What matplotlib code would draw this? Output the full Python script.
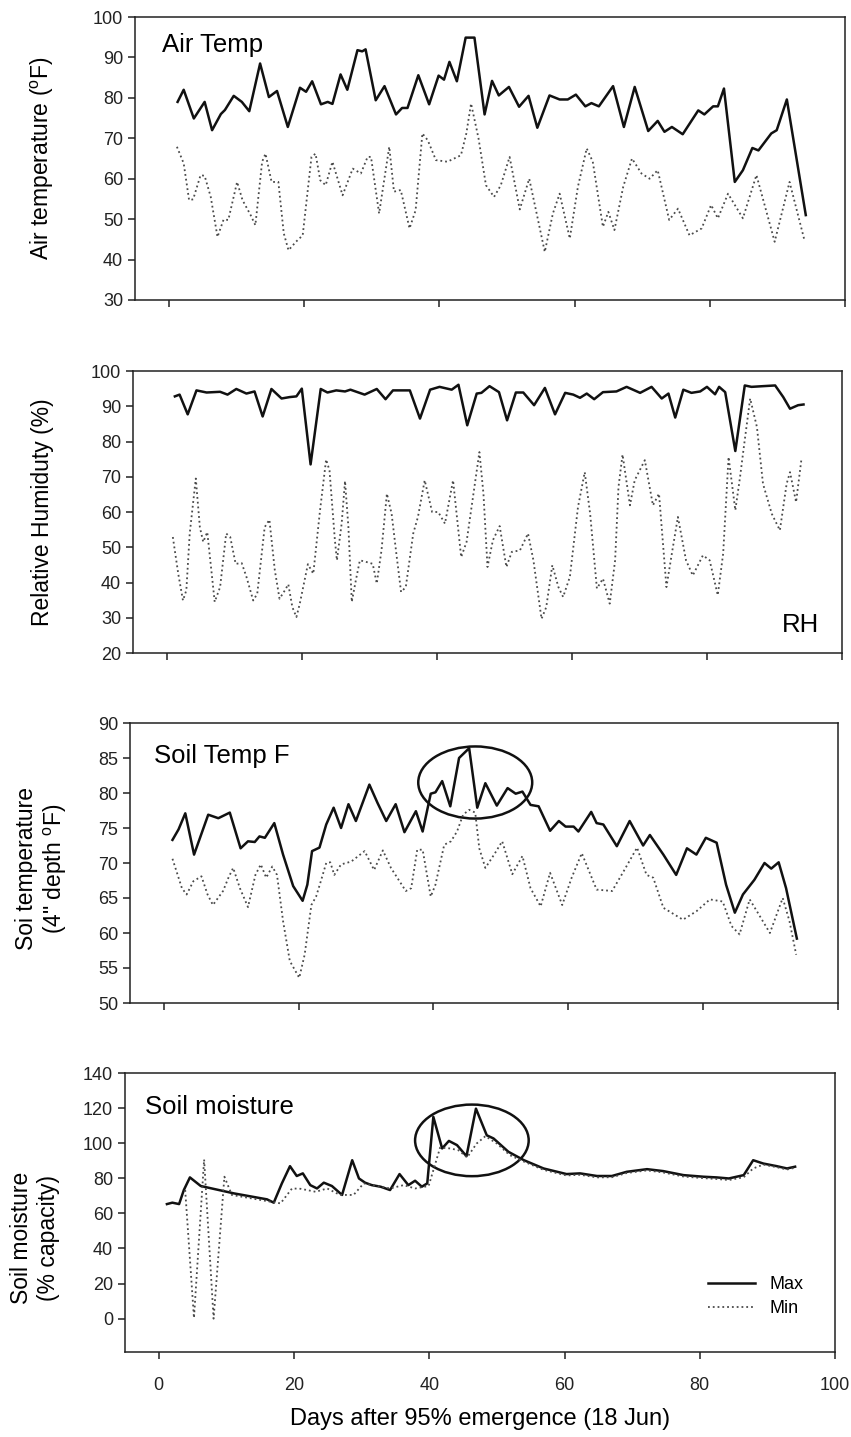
import matplotlib.pyplot as plt
from matplotlib.patches import Ellipse

plt.rcParams['font.family'] = ['Liberation Sans', 'DejaVu Sans']
plt.rcParams['mathtext.fontset'] = 'custom'
plt.rcParams['mathtext.rm'] = 'Liberation Sans'

# ---- data ----
air_max_days = [1.3, 2.2, 3.7, 5.3, 6.4, 7.7, 8.3, 9.6, 10.8, 11.9, 13.5, 14.8, 16.0, 17.6, 19.4,
                20.3, 21.2, 22.5, 23.5, 24.2, 25.4, 26.4, 27.9, 28.6, 29.1, 30.6, 31.9, 33.6, 34.5,
                35.3, 36.9, 38.5, 39.9, 40.7, 41.5, 42.6, 43.9, 45.2, 46.7, 47.8, 48.8, 50.3, 51.8,
                53.2, 54.5, 56.3, 57.8, 59.0, 60.2, 61.6, 62.5, 63.6, 65.7, 67.3, 68.9, 70.9, 72.3,
                73.3, 74.4, 76.0, 78.3, 79.2, 80.5, 81.2, 82.1, 83.7, 84.9, 86.3, 87.2, 89.1, 89.9,
                91.4, 94.2]
air_max = [79, 82, 74.9, 79, 72, 76, 77, 80.5, 79, 76.7, 88.5, 80.2, 81.7, 72.8, 82.5,
           81.5, 84.1, 78.4, 79, 78.5, 85.8, 82, 91.8, 91.5, 92, 79.4, 82.9, 75.9, 77.5,
           77.5, 85.6, 78.4, 85.5, 84.5, 88.9, 84.1, 94.9, 94.9, 75.9, 84.2, 80.6, 82.7, 77.8,
           80.5, 72.6, 80.6, 79.6, 79.6, 80.8, 77.9, 78.7, 77.9, 82.9, 72.8, 82.7, 71.8, 74.3,
           71.6, 72.8, 71.0, 76.9, 75.9, 77.9, 77.9, 82.3, 59.2, 62.1, 67.6, 67.0, 71.2, 72.0,
           79.6, 51.0]

air_min_days = [1.2, 2.2, 3.0, 3.6, 4.7, 5.3, 6.2, 7.2, 8.1, 8.8, 10.1, 10.9, 12.1, 12.8, 13.8,
                14.3, 15.2, 16.2, 17.0, 17.7, 18.8, 19.8, 21.1, 21.7, 22.4, 23.2, 24.2, 25.7, 27.2,
                28.4, 29.4, 29.9, 31.1, 32.6, 33.3, 34.3, 35.6, 36.5, 37.5, 38.3, 39.5, 41.2, 43.2,
                44.0, 44.7, 45.8, 46.9, 48.1, 49.1, 50.4, 51.9, 53.3, 54.4, 55.6, 56.8, 57.8, 59.3,
                60.5, 61.8, 62.7, 64.2, 65.0, 65.9, 67.2, 68.5, 69.9, 71.1, 72.3, 74.0, 75.3, 77.0,
                78.8, 80.2, 81.2, 82.7, 84.9, 86.9, 89.6, 91.8, 94.0]
air_min = [67.9, 63.8, 54.7, 54.9, 60.9, 60.7, 55.5, 45.6, 49.9, 49.8, 59.2, 54.7, 51.0, 48.5, 64.2,
           66.2, 59.2, 59.2, 46.5, 42.3, 44.4, 46.0, 65.4, 66.2, 59.6, 58.4, 64.2, 55.9, 62.5,
           61.3, 65.4, 65.4, 51.4, 67.9, 56.8, 57.2, 47.7, 52.2, 71.2, 69.5, 64.6, 64.2, 65.8,
           71.2, 78.6, 70.0, 58.4, 55.5, 58.4, 65.4, 52.4, 60.0, 51.4, 41.9, 51.4, 56.3, 45.2,
           58.0, 67.5, 64.2, 48.1, 51.8, 47.3, 58.0, 65.0, 61.3, 60.0, 62.1, 49.8, 52.6, 46.0,
           47.7, 53.5, 50.2, 56.3, 50.2, 60.9, 44.4, 59.2, 44.8]

rh_max_days = [1.2, 1.9, 3.1, 4.4, 5.9, 7.9, 9.0, 10.3, 11.8, 13.0, 14.2, 15.5, 17.0, 18.2, 19.2,
               20.0, 21.3, 22.8, 23.8, 25.1, 26.4, 27.2, 29.3, 31.1, 32.4, 33.5, 36.0, 37.5, 39.0,
               40.4, 42.2, 43.2, 44.5, 45.9, 46.6, 47.8, 49.2, 50.4, 51.7, 52.8, 54.4, 56.0, 57.5,
               59.0, 60.2, 61.2, 62.2, 63.3, 64.6, 66.6, 68.1, 70.1, 71.8, 73.3, 74.3, 75.3, 76.5,
               77.7, 79.0, 80.0, 81.2, 81.8, 82.7, 84.2, 85.6, 86.6, 88.3, 90.1, 91.3, 92.3, 93.5,
               94.3]
rh_max = [92.8, 93.3, 87.7, 94.5, 93.9, 94.1, 93.3, 94.9, 93.6, 94.2, 87.1, 94.9, 92.2, 92.6, 92.8,
          95.0, 73.5, 94.9, 93.9, 94.5, 94.2, 94.7, 93.3, 94.9, 92.0, 94.5, 94.5, 86.5, 94.7,
          95.5, 94.7, 96.1, 84.6, 93.6, 93.8, 95.7, 94.0, 86.0, 93.9, 93.9, 90.3, 95.2, 87.7,
          93.8, 93.3, 92.4, 93.6, 92.0, 94.0, 94.2, 95.5, 93.8, 95.5, 92.2, 93.6, 86.8, 94.7,
          93.8, 94.2, 95.5, 93.4, 95.5, 94.0, 77.3, 95.9, 95.5, 95.7, 95.9, 92.6, 89.3, 90.3,
          90.5]

rh_min_days = [0.9, 1.7, 2.4, 2.9, 3.4, 4.3, 4.9, 5.4, 6.0, 7.1, 7.9, 8.8, 9.4, 10.2, 11.1, 11.8,
               12.8, 13.4, 14.5, 15.2, 16.0, 16.7, 17.5, 18.0, 18.6, 19.2, 19.7, 20.9, 21.7, 22.7,
               23.6, 24.1, 24.9, 25.2, 25.9, 26.4, 26.9, 27.4, 28.0, 28.6, 29.6, 30.5, 31.1, 31.8,
               32.6, 33.3, 34.0, 34.7, 35.4, 36.5, 37.2, 38.2, 39.3, 40.2, 41.2, 42.4, 43.6, 44.4,
               45.1, 46.3, 46.9, 47.5, 48.3, 49.3, 50.3, 51.1, 52.3, 53.5, 54.3, 55.5, 56.2, 57.1,
               58.0, 58.7, 59.7, 60.9, 61.9, 62.7, 63.7, 64.6, 65.6, 66.4, 66.9, 67.5, 68.6, 69.3,
               70.8, 72.0, 72.9, 74.0, 74.8, 75.7, 76.9, 77.9, 79.4, 80.4, 81.6, 82.4, 83.2, 84.2,
               84.9, 85.4, 86.4, 87.4, 88.3, 89.6, 90.8, 91.8, 92.3, 93.2, 94.0]
rh_min = [52.9, 42.5, 34.9, 37.8, 53.9, 69.5, 55.7, 51.5, 54.3, 34.5, 38.7, 53.9, 52.9, 45.3, 45.5, 41.6,
          34.9, 36.8, 55.7, 57.8, 43.5, 35.4, 37.8, 39.5, 33.0, 30.2, 34.0, 45.2, 42.5, 60.5,
          74.9, 71.8, 52.0, 46.3, 56.7, 68.8, 55.7, 34.5, 40.6, 46.3, 45.8, 45.3, 39.7, 49.1,
          65.2, 59.5, 48.2, 37.3, 38.7, 53.9, 58.6, 69.0, 60.0, 60.0, 56.7, 69.0, 47.2, 51.5,
          60.9, 77.0, 65.2, 44.4, 52.0, 56.0, 44.4, 48.7, 49.1, 53.9, 46.3, 29.7, 33.0, 44.9,
          38.7, 35.9, 41.6, 61.4, 71.3, 59.5, 38.3, 41.1, 34.0, 46.3, 67.1, 76.3, 61.9, 69.0,
          74.7, 61.9, 65.2, 38.7, 48.2, 58.6, 46.3, 42.0, 47.7, 46.3, 36.4, 48.2, 75.6, 60.5,
          69.9, 77.5, 92.2, 84.1, 68.0, 59.5, 54.8, 68.0, 71.3, 62.8, 75.1]

soil_max_days = [1.3, 2.2, 3.2, 4.5, 6.6, 8.1, 9.8, 11.4, 12.5, 13.5, 14.2, 15.0, 16.4, 17.7, 19.2,
                 20.6, 21.3, 22.0, 23.1, 24.1, 25.2, 26.3, 27.4, 28.5, 30.5, 31.7, 33.0, 34.4, 35.7,
                 37.4, 38.4, 39.6, 40.3, 41.3, 42.5, 43.8, 45.3, 46.5, 47.7, 49.4, 51.0, 52.2, 53.2,
                 54.4, 55.6, 57.3, 58.6, 59.6, 60.8, 61.5, 63.4, 64.2, 65.2, 67.2, 69.1, 71.1, 72.1,
                 74.1, 76.0, 77.6, 79.0, 80.4, 82.0, 83.4, 84.7, 85.9, 87.6, 89.1, 90.1, 91.2, 92.3,
                 93.9]
soil_max = [73.3, 74.8, 77.1, 71.2, 76.9, 76.4, 77.2, 72.1, 73.1, 73.0, 73.8, 73.6, 75.7, 71.2, 66.7,
            64.6, 66.9, 71.7, 72.2, 75.5, 77.9, 75.0, 78.4, 76.0, 81.2, 78.6, 76.0, 78.4, 74.4,
            77.4, 74.5, 79.9, 80.1, 81.7, 78.1, 85.0, 86.4, 77.9, 81.4, 78.2, 80.7, 79.9, 80.2,
            78.3, 78.1, 74.6, 76.0, 75.2, 75.2, 74.5, 77.3, 75.7, 75.5, 72.4, 76.0, 72.5, 74.0,
            71.2, 68.3, 72.1, 71.2, 73.6, 72.9, 66.9, 62.9, 65.5, 67.6, 70.0, 69.2, 70.1, 66.4,
            59.2]

soil_min_days = [1.3, 2.7, 3.4, 4.4, 5.6, 6.5, 7.3, 8.8, 9.6, 10.3, 11.3, 12.5, 13.6, 14.4, 15.2,
                 16.1, 16.8, 17.7, 18.7, 20.1, 20.9, 21.9, 22.6, 23.3, 24.1, 24.7, 25.3, 26.3, 27.8,
                 29.8, 31.2, 32.5, 33.7, 35.9, 36.7, 37.6, 38.4, 39.6, 40.3, 41.6, 42.6, 43.5, 44.4,
                 45.3, 46.2, 46.8, 47.7, 49.0, 50.2, 51.7, 53.2, 54.4, 55.9, 57.3, 59.1, 60.5, 62.0,
                 64.2, 66.5, 68.2, 70.2, 71.6, 72.6, 74.1, 77.0, 79.0, 81.0, 82.9, 84.2, 85.4, 86.9,
                 88.1, 89.9, 91.8, 92.8, 93.8]
soil_min = [70.6, 66.4, 65.5, 67.4, 68.1, 65.5, 64.0, 66.0, 67.9, 69.3, 66.4, 63.7, 68.3, 69.8, 67.9,
            69.5, 68.3, 61.7, 56.0, 53.6, 56.9, 64.0, 65.2, 67.4, 70.0, 70.1, 68.3, 69.8, 70.2,
            71.7, 69.0, 71.8, 69.3, 66.0, 66.4, 71.9, 71.9, 65.2, 66.9, 72.6, 73.1, 74.5, 76.9,
            77.6, 77.2, 72.1, 69.3, 71.2, 73.1, 68.4, 71.0, 66.4, 63.8, 68.6, 64.0, 67.9, 71.4,
            66.2, 66.0, 68.8, 72.2, 68.3, 67.9, 63.6, 61.9, 63.1, 64.8, 64.5, 61.0, 59.8, 64.8,
            62.9, 60.0, 65.0, 61.7, 56.9]

moist_max_days = [1.2, 2.0, 3.0, 3.7, 4.6, 6.2, 11.1, 16.0, 17.0, 18.2, 19.4, 20.4, 21.3, 22.4, 23.4,
                  24.4, 25.6, 27.1, 28.6, 29.6, 30.5, 31.5, 32.8, 34.2, 35.6, 36.9, 37.9, 38.9, 39.7,
                  40.6, 41.9, 42.9, 44.1, 45.5, 46.9, 48.5, 49.5, 51.7, 54.0, 56.9, 60.3, 62.3, 64.8,
                  67.0, 69.2, 72.2, 74.6, 77.6, 80.5, 82.5, 84.3, 86.5, 87.9, 89.4, 91.4, 92.9, 94.1]
moist_max = [65.3, 66.1, 65.3, 73.3, 80.5, 75.6, 71.4, 68.0, 66.1, 77.1, 86.9, 81.3, 82.8, 76.1, 74.2,
             77.5, 75.6, 70.5, 90.3, 79.9, 77.5, 76.1, 75.2, 73.3, 82.4, 76.1, 78.6, 75.2, 77.1,
             115.0, 97.0, 101.3, 98.9, 92.6, 119.7, 104.5, 102.7, 95.1, 90.3, 85.6, 82.4, 82.8, 81.3,
             81.3, 83.7, 85.2, 84.1, 81.8, 80.9, 80.5, 79.9, 81.8, 90.3, 88.4, 86.9, 85.6, 86.6]

moist_min_days = [3.9, 5.2, 6.7, 8.1, 9.7, 10.8, 16.0, 18.0, 19.7, 21.0, 23.2, 24.9, 26.8, 28.8, 30.3,
                  32.3, 34.2, 36.2, 37.9, 39.9, 40.9, 41.6, 43.1, 44.3, 45.6, 47.0, 48.3, 50.0, 51.9,
                  54.0, 56.9, 60.3, 62.3, 64.8, 67.0, 69.2, 72.2, 74.6, 77.6, 80.5, 82.5, 84.3, 86.5,
                  87.9, 89.4, 91.4, 92.9, 94.1]
moist_min = [73.3, 0.4, 90.7, 0.0, 80.9, 70.5, 67.0, 65.7, 74.2, 74.0, 72.3, 74.2, 70.5, 70.5, 77.1,
             75.6, 74.2, 76.1, 74.2, 75.6, 88.4, 97.5, 97.0, 96.0, 91.9, 99.8, 104.0, 99.8, 93.2,
             89.5, 84.8, 81.6, 82.0, 80.5, 80.6, 83.0, 84.5, 83.3, 81.0, 80.1, 79.6, 79.0, 80.6,
             85.6, 87.8, 86.3, 85.0, 86.0]

day_ticks = [0, 20, 40, 60, 80, 100]

# ---- figure ----
W, H = 851, 1437
fig = plt.figure(figsize=(W / 100, H / 100), dpi=100)


def panel(left, top, right, bottom):
    return fig.add_axes([left / W, 1 - bottom / H, (right - left) / W, (bottom - top) / H])


ax1 = panel(135, 17, 845, 300)
ax2 = panel(133, 371, 842, 653)
ax3 = panel(130, 723, 838, 1003)
ax4 = panel(125, 1073, 835, 1352)

series = [
    (ax1, air_max_days, air_max, air_min_days, air_min),
    (ax2, rh_max_days, rh_max, rh_min_days, rh_min),
    (ax3, soil_max_days, soil_max, soil_min_days, soil_min),
    (ax4, moist_max_days, moist_max, moist_min_days, moist_min),
]
for ax, dx, yx, dn, yn in series:
    ax.plot(dx, yx, color='#111111', lw=1.8, label='Max', solid_joinstyle='round')
    ax.plot(dn, yn, color='#4a4a4a', lw=1.3, ls=':', label='Min')
    ax.set_xlim(-5, 100)
    ax.set_xticks(day_ticks)
    ax.tick_params(direction='out', length=5, width=1.1, labelsize=13, colors='#222222')
    for s in ax.spines.values():
        s.set_linewidth(1.1)
        s.set_color('#222222')

for ax in (ax1, ax2, ax3):
    ax.tick_params(labelbottom=False)
ax4.tick_params(axis='x', pad=13)

ax1.set_ylim(30, 100)
ax1.set_yticks(range(30, 101, 10))
ax2.set_ylim(20, 100)
ax2.set_yticks(range(20, 101, 10))
ax3.set_ylim(50, 90)
ax3.set_yticks(range(50, 91, 5))
ax4.set_ylim(-19, 140)
ax4.set_yticks(range(0, 141, 20))

# panel titles
ax1.text(0.038, 0.945, 'Air Temp', transform=ax1.transAxes, fontsize=18.5, va='top')
ax2.text(0.968, 0.055, 'RH', transform=ax2.transAxes, fontsize=18.5, ha='right', va='bottom')
ax3.text(0.034, 0.925, 'Soil Temp F', transform=ax3.transAxes, fontsize=18.5, va='top')
ax4.text(0.028, 0.92, 'Soil moisture', transform=ax4.transAxes, fontsize=18.5, va='top')

# y labels
ylab = dict(rotation=90, ha='center', va='center', fontsize=16.5, multialignment='center')
ax1.text(-0.131, 0.5, 'Air temperature ($^{\\rm o}$F)', transform=ax1.transAxes, **ylab)
ax2.text(-0.128, 0.5, 'Relative Humiduty (%)', transform=ax2.transAxes, **ylab)
ax3.text(-0.124, 0.48, 'Soi temperature\n(4" depth $^{\\rm o}$F)', transform=ax3.transAxes, **ylab)
ax4.text(-0.127, 0.41, 'Soil moisture\n(% capacity)', transform=ax4.transAxes, **ylab)

ax4.set_xlabel('Days after 95% emergence (18 Jun)', fontsize=17, labelpad=10)

# circled regions
ax3.add_patch(Ellipse((46.2, 81.5), 16.9, 10.3, fill=False, lw=1.8, ec='#111111'))
ax4.add_patch(Ellipse((46.3, 101.6), 16.8, 40.8, fill=False, lw=1.8, ec='#111111'))

ax4.legend(loc='lower right', bbox_to_anchor=(0.978, 0.067), frameon=False, fontsize=13,
           handlelength=2.6, handletextpad=0.8, labelspacing=0.4)

fig.savefig('out.png', dpi=100, facecolor='white')
